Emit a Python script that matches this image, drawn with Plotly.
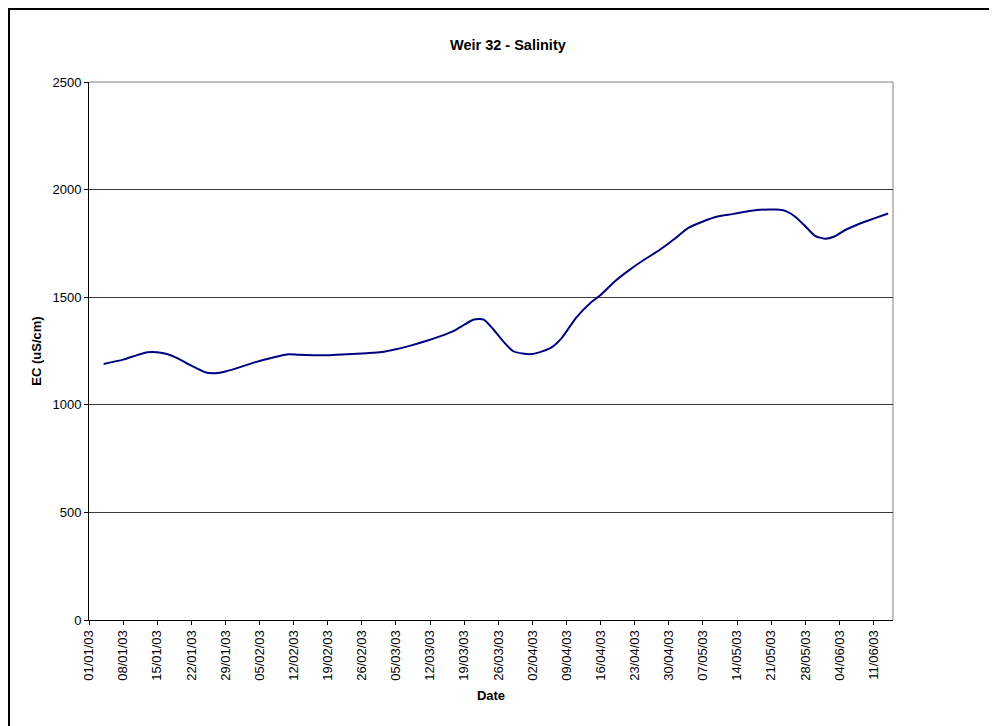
import plotly.graph_objects as go

# Data
dates = [
    "2003-01-04", "2003-01-08", "2003-01-11", "2003-01-13", "2003-01-15", "2003-01-17",
    "2003-01-19", "2003-01-22", "2003-01-25", "2003-01-27", "2003-01-29", "2003-02-01",
    "2003-02-04", "2003-02-08", "2003-02-11", "2003-02-13", "2003-02-16", "2003-02-19",
    "2003-02-23", "2003-02-27", "2003-03-02", "2003-03-05", "2003-03-08", "2003-03-11",
    "2003-03-14", "2003-03-17", "2003-03-19", "2003-03-21", "2003-03-23", "2003-03-25",
    "2003-03-27", "2003-03-29", "2003-03-31", "2003-04-02", "2003-04-04", "2003-04-06",
    "2003-04-08", "2003-04-11", "2003-04-14", "2003-04-16", "2003-04-19", "2003-04-22",
    "2003-04-25", "2003-04-28", "2003-05-01", "2003-05-04", "2003-05-07", "2003-05-10",
    "2003-05-13", "2003-05-16", "2003-05-18", "2003-05-22", "2003-05-24", "2003-05-26",
    "2003-05-28", "2003-05-30", "2003-06-01", "2003-06-03", "2003-06-05", "2003-06-08",
    "2003-06-11", "2003-06-14",
]
ec_values = [
    1190, 1210, 1232, 1244, 1244, 1236,
    1218, 1182, 1150, 1147, 1155, 1175,
    1197, 1221, 1235, 1232, 1230, 1230,
    1235, 1240, 1245, 1258, 1275, 1295,
    1318, 1345, 1372, 1396, 1396, 1350,
    1295, 1250, 1238, 1236, 1248, 1268,
    1310, 1405, 1475, 1510, 1575, 1628,
    1675, 1718, 1768, 1822, 1852, 1875,
    1886, 1898, 1905, 1907, 1900, 1873,
    1830, 1785, 1772, 1782, 1810, 1840,
    1865, 1889,
]
x_tick_dates = [
    "2003-01-01", "2003-01-08", "2003-01-15", "2003-01-22", "2003-01-29", "2003-02-05",
    "2003-02-12", "2003-02-19", "2003-02-26", "2003-03-05", "2003-03-12", "2003-03-19",
    "2003-03-26", "2003-04-02", "2003-04-09", "2003-04-16", "2003-04-23", "2003-04-30",
    "2003-05-07", "2003-05-14", "2003-05-21", "2003-05-28", "2003-06-04", "2003-06-11",
]
y_ticks = [0, 500, 1000, 1500, 2000, 2500]

FONT = "Liberation Sans, Arial, sans-serif"

# page has an 8px body margin; figure placed so plot area sits at x 89..893, y 82..620
ML, MR, MT, MB = 81, 104, 74, 106
W, H = 989, 718
PW = W - ML - MR
PH = H - MT - MB

fig = go.Figure()
fig.add_trace(go.Scatter(
    x=dates, y=ec_values, mode="lines",
    line=dict(color="#000080", width=2, shape="spline", smoothing=0.6),
    showlegend=False, hoverinfo="x+y",
))

fig.update_layout(
    width=W, height=H,
    margin=dict(l=ML, r=MR, t=MT, b=MB, pad=0),
    paper_bgcolor="white", plot_bgcolor="white",
    font=dict(family=FONT, size=13, color="black"),
    xaxis=dict(
        type="date", range=["2003-01-01", "2003-06-15"],
        tickmode="array", tickvals=x_tick_dates,
        tickformat="%d/%m/%y", tickangle=-90,
        ticks="outside", ticklen=4, tickcolor="black",
        showline=True, linecolor="black", linewidth=1,
        showgrid=False, zeroline=False,
        title=dict(text="<b>Date</b>", font=dict(size=13), standoff=11),
        tickfont=dict(size=13),
    ),
    yaxis=dict(
        range=[0, 2500], tickmode="array", tickvals=y_ticks,
        ticks="outside", ticklen=4, tickcolor="black",
        showline=True, linecolor="black", linewidth=1,
        showgrid=True, gridcolor="#3a3a3a", gridwidth=1,
        zeroline=False,
        title=dict(text="<b>EC (uS/cm)</b>", font=dict(size=13), standoff=7),
        tickfont=dict(size=13),
    ),
    annotations=[dict(
        text="<b>Weir 32 - Salinity</b>", xref="paper", yref="paper",
        x=(500 - ML) / PW, y=1 + (MT - 37) / PH,
        xanchor="center", yanchor="middle", showarrow=False,
        font=dict(size=14.5, family=FONT),
    )],
    shapes=[
        # plot area border (top and right) in grey
        dict(type="line", xref="paper", yref="paper", x0=0, x1=1, y0=1, y1=1,
             line=dict(color="#808080", width=1), layer="between"),
        dict(type="line", xref="paper", yref="paper", x0=1, x1=1, y0=0, y1=1,
             line=dict(color="#808080", width=1), layer="between"),
        # outer chart frame (left and top edges visible)
        dict(type="rect", xref="paper", yref="paper",
             x0=(1 - ML) / PW, x1=1.3, y0=-0.4, y1=1 + (MT - 1) / PH,
             line=dict(color="black", width=2), layer="above"),
    ],
)

fig.write_html("out.html")
